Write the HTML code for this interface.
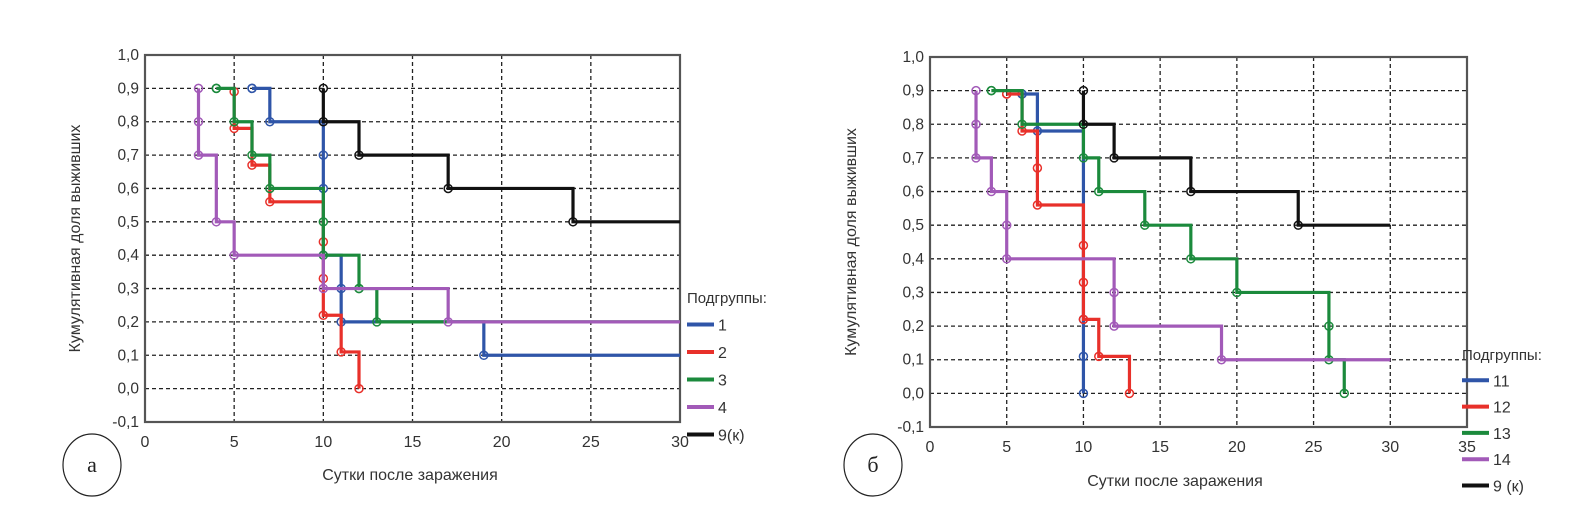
<!DOCTYPE html>
<html><head><meta charset="utf-8"><style>
html,body{margin:0;padding:0;background:#fff;}
svg{display:block;font-family:"Liberation Sans",Arial,sans-serif;}
</style></head><body>
<svg id="s" width="1589" height="508" viewBox="0 0 1589 508"></svg>
<script>
// ---- Chart A data ----
const aTicksX = [0,5,10,15,20,25,30];
const aTicksY = [-0.1,0,0.1,0.2,0.3,0.4,0.5,0.6,0.7,0.8,0.9,1.0];
const aLabels = ["1","2","3","4","9(к)"];
const aX1 = [6,7,10,11,19,30];      const aY1 = [0.9,0.8,0.4,0.2,0.1];
const aX2 = [5,6,7,10,11,12];       const aY2 = [0.78,0.67,0.56,0.22,0.11,0.0];
const aX3 = [4,5,6,7,10,12,13,30];  const aY3 = [0.9,0.8,0.7,0.6,0.4,0.3,0.2];
const aX4 = [3,4,5,10,17,30];       const aY4 = [0.7,0.5,0.4,0.3,0.2];
const aX9 = [10,12,17,24,30];       const aY9 = [0.8,0.7,0.6,0.5];
const aStart = [0.9,0.89,0.9,0.9,0.9];
const aExtraX = [[10,10,11],[10,10],[10,12],[3],[]];
const aExtraY = [[0.7,0.6,0.3],[0.44,0.33],[0.5,0.3],[0.8],[]];
// ---- Chart B data ----
const bTicksX = [0,5,10,15,20,25,30,35];
const bTicksY = [-0.1,0,0.1,0.2,0.3,0.4,0.5,0.6,0.7,0.8,0.9,1.0];
const bLabels = ["11","12","13","14","9 (к)"];
const bX1 = [6,7,10,10];            const bY1 = [0.89,0.78,0.0];
const bX2 = [5,6,7,10,11,13];       const bY2 = [0.89,0.78,0.56,0.22,0.11,0.0];
const bX3 = [4,6,10,11,14,17,20,26,27]; const bY3 = [0.9,0.8,0.7,0.6,0.5,0.4,0.3,0.1,0.0];
const bX4 = [3,4,5,12,19,30];       const bY4 = [0.7,0.6,0.4,0.2,0.1];
const bX9 = [10,12,17,24,30];       const bY9 = [0.8,0.7,0.6,0.5];
const bStart = [0.89,0.89,0.9,0.9,0.9];
const bExtraX = [[10,10],[7,10,10],[26],[3,5,12],[]];
const bExtraY = [[0.11,0.22],[0.67,0.44,0.33],[0.2],[0.8,0.5,0.3],[]];

const colors = ["#2f55a8","#e8302a","#1b8a3c","#a25ab8","#111111"];
const NS = "http://www.w3.org/2000/svg";
const svg = document.getElementById('s');
function mk(tag, attrs, parent, text){
  const e = document.createElementNS(NS, tag);
  for (const k in attrs) e.setAttribute(k, attrs[k]);
  if (text !== undefined) e.textContent = text;
  (parent||svg).appendChild(e);
  return e;
}

function chart(cfg){
  const g = mk('g', {});
  
  
  const sx = v => cfg.L + (v - cfg.xmin) / (cfg.xmax - cfg.xmin) * (cfg.R - cfg.L);
  const sy = v => cfg.B - (v - cfg.ymin) / (cfg.ymax - cfg.ymin) * (cfg.B - cfg.T);
  cfg.ticksX.forEach(t => {
    if (t > cfg.xmin && t < cfg.xmax) {
      const l = mk('line', {x1:sx(t),x2:sx(t),y1:cfg.T,y2:cfg.B,stroke:'#222','stroke-width':1.3,'stroke-dasharray':'4 3'}, g);
      
      
    }
    const tx = mk('text', {x:sx(t),y:cfg.B+25,'text-anchor':'middle','font-size':16,fill:'#333'}, g, String(t));
    
    
  });
  cfg.ticksY.forEach(t => {
    if (t > cfg.ymin + 1e-9 && t < cfg.ymax - 1e-9) {
      const l = mk('line', {x1:cfg.L,x2:cfg.R,y1:sy(t),y2:sy(t),stroke:'#222','stroke-width':1.3,'stroke-dasharray':'4 3'}, g);
      
      
    }
    const tx = mk('text', {x:cfg.L-6,y:sy(t)+5,'text-anchor':'end','font-size':15.5,fill:'#333'}, g, t.toFixed(1).replace('.',','));
    
    
  });
  const box = mk('rect', {x:cfg.L,y:cfg.T,width:cfg.R-cfg.L,height:cfg.B-cfg.T,fill:'none',stroke:'#555','stroke-width':2.2}, g);
  
  
  cfg.series.forEach((s, i) => {
    const X = s.x, Y = s.y;
    let d = 'M' + sx(X[0]) + ' ' + sy(s.start);
    for (let k = 0; k < Y.length; k++) {
      d += ' L' + sx(X[k]) + ' ' + sy(Y[k]);
      if (k + 1 < X.length) d += ' L' + sx(X[k+1]) + ' ' + sy(Y[k]);
    }
    const p = mk('path', {d:d,fill:'none',stroke:colors[i],'stroke-width':3.2,'stroke-linejoin':'miter'}, g);
    
    
    const mx = [X[0]], my = [s.start];
    for (let k = 0; k < Y.length; k++) { mx.push(X[k]); my.push(Y[k]); }
    s.ex.forEach((v, j) => { mx.push(v); my.push(s.ey[j]); });
    mx.forEach((v, j) => {
      const c = mk('circle', {cx:sx(v),cy:sy(my[j]),r:4,fill:'none',stroke:colors[i],'stroke-width':1.5}, g);
      
      
    });
  });
  const xt = mk('text', {x:cfg.xtX,y:cfg.xtY,'text-anchor':'middle','font-size':16,fill:'#333'}, g, 'Сутки после заражения');
  
  
  const yt = mk('text', {x:0,y:0,'text-anchor':'middle','font-size':16,fill:'#333',transform:'translate('+cfg.ytX+','+((cfg.T+cfg.B)/2)+') rotate(-90)'}, g, 'Кумулятивная доля выживших');
  
  
  const lg = mk('g', {}, g);
  
  
  const lh = mk('text', {x:cfg.legX,y:cfg.legY,'font-size':15,fill:'#333'}, lg, 'Подгруппы:');
  
  
  cfg.labels.forEach((lab, i) => {
    const y = cfg.legY + cfg.legStep * (i + 1);
    const ln = mk('line', {x1:cfg.legX,x2:cfg.legX+27,y1:y-6,y2:y-6,stroke:colors[i],'stroke-width':4}, lg);
    
    
    const t = mk('text', {x:cfg.legX+31,y:y,'font-size':16,fill:'#333'}, lg, lab);
    
    
  });
  const pc = mk('ellipse', {cx:cfg.cX,cy:465,rx:29,ry:31,fill:'none',stroke:'#222','stroke-width':1.2}, g);
  
  
  const pt = mk('text', {x:cfg.cX,y:472,'text-anchor':'middle','font-size':22,'font-family':'Liberation Serif, serif',fill:'#222'}, g, cfg.panel);
  
  
}

chart({name:'chart-a', L:145,R:680,T:55,B:422, xmin:0,xmax:30,ymin:-0.1,ymax:1.0,
  ticksX:aTicksX, ticksY:aTicksY, labels:aLabels,
  series:[
    {x:aX1,y:aY1,start:aStart[0],ex:aExtraX[0],ey:aExtraY[0]},
    {x:aX2,y:aY2,start:aStart[1],ex:aExtraX[1],ey:aExtraY[1]},
    {x:aX3,y:aY3,start:aStart[2],ex:aExtraX[2],ey:aExtraY[2]},
    {x:aX4,y:aY4,start:aStart[3],ex:aExtraX[3],ey:aExtraY[3]},
    {x:aX9,y:aY9,start:aStart[4],ex:aExtraX[4],ey:aExtraY[4]}
  ],
  xtX:410, xtY:480, ytX:80, legX:687, legY:303, legStep:27.5, cX:92, panel:'а'});

chart({name:'chart-b', L:930,R:1467,T:57,B:427, xmin:0,xmax:35,ymin:-0.1,ymax:1.0,
  ticksX:bTicksX, ticksY:bTicksY, labels:bLabels,
  series:[
    {x:bX1,y:bY1,start:bStart[0],ex:bExtraX[0],ey:bExtraY[0]},
    {x:bX2,y:bY2,start:bStart[1],ex:bExtraX[1],ey:bExtraY[1]},
    {x:bX3,y:bY3,start:bStart[2],ex:bExtraX[2],ey:bExtraY[2]},
    {x:bX4,y:bY4,start:bStart[3],ex:bExtraX[3],ey:bExtraY[3]},
    {x:bX9,y:bY9,start:bStart[4],ex:bExtraX[4],ey:bExtraY[4]}
  ],
  xtX:1175, xtY:486, ytX:856, legX:1462, legY:360, legStep:26.3, cX:873, panel:'б'});
</script>
</body></html>
